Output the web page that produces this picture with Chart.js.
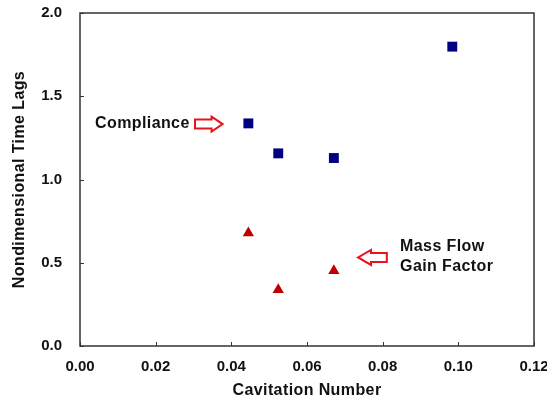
<!DOCTYPE html>
<html><head><meta charset="utf-8">
<script src="https://cdn.jsdelivr.net/npm/chart.js@4"></script>
<style>html,body{margin:0;padding:0;background:#fff}#wrap{width:547px;height:401px}</style>
</head><body><div id="wrap"><canvas id="c" width="547" height="401"></canvas></div>
<script>
const complianceX = [0.0445, 0.0524, 0.0671, 0.0984];
const complianceY = [1.337, 1.157, 1.129, 1.798];
const massFlowX = [0.0445, 0.0524, 0.0671];
const massFlowY = [0.679, 0.338, 0.452];
const xTicks = [0, 0.02, 0.04, 0.06, 0.08, 0.10, 0.12];
const yTicks = [0, 0.5, 1.0, 1.5, 2.0];
const xTitle = 'Cavitation Number';
const yTitle = 'Nondimensional Time Lags';
const labelCompliance = 'Compliance';
const labelMassFlow = ['Mass Flow', 'Gain Factor'];

const FONT = 'Arial, "Liberation Sans", sans-serif';
const SPACING = '0.4px';

function hollowArrow(ctx, x0, x1, y, dir, headFrac) {
  const len = Math.abs(x1 - x0);
  const headLen = len * headFrac;
  const shaftH = 4.5, headH = 7.5;
  const tip = dir > 0 ? Math.max(x0, x1) : Math.min(x0, x1);
  const tail = dir > 0 ? Math.min(x0, x1) : Math.max(x0, x1);
  const neck = tip - dir * headLen;
  ctx.beginPath();
  ctx.moveTo(tail, y - shaftH);
  ctx.lineTo(neck, y - shaftH);
  ctx.lineTo(neck, y - headH);
  ctx.lineTo(tip, y);
  ctx.lineTo(neck, y + headH);
  ctx.lineTo(neck, y + shaftH);
  ctx.lineTo(tail, y + shaftH);
  ctx.closePath();
  ctx.strokeStyle = '#e8141c';
  ctx.lineWidth = 2;
  ctx.lineJoin = 'miter';
  ctx.stroke();
}

function spacedTitle(s) {
  if (s._spaced) return;
  const orig = s.drawTitle.bind(s);
  s.drawTitle = function () {
    this.ctx.save();
    this.ctx.letterSpacing = SPACING;
    orig();
    this.ctx.restore();
  };
  s._spaced = true;
}

const decor = {
  id: 'decor',
  afterDraw(chart) {
    const ctx = chart.ctx, a = chart.chartArea;
    const xs = chart.scales.x, ys = chart.scales.y;
    ctx.save();
    ctx.strokeStyle = '#333';
    ctx.lineWidth = 1.5;
    ctx.strokeRect(a.left, a.top, a.right - a.left, a.bottom - a.top);
    ctx.lineWidth = 1;
    xTicks.forEach(v => {
      const p = Math.round(xs.getPixelForValue(v)) + 0.5;
      ctx.beginPath(); ctx.moveTo(p, a.bottom); ctx.lineTo(p, a.bottom - 4); ctx.stroke();
    });
    yTicks.forEach(v => {
      const p = Math.round(ys.getPixelForValue(v)) + 0.5;
      ctx.beginPath(); ctx.moveTo(a.left, p); ctx.lineTo(a.left + 4, p); ctx.stroke();
    });
    ctx.fillStyle = '#111';
    ctx.font = 'bold 16px ' + FONT;
    ctx.letterSpacing = SPACING;
    ctx.textBaseline = 'middle';
    ctx.textAlign = 'left';
    ctx.fillText(labelCompliance, xs.getPixelForValue(0.00397), ys.getPixelForValue(1.335));
    ctx.fillText(labelMassFlow[0], xs.getPixelForValue(0.0846), ys.getPixelForValue(0.600));
    ctx.fillText(labelMassFlow[1], xs.getPixelForValue(0.0846), ys.getPixelForValue(0.474));
    ctx.letterSpacing = '0px';
    hollowArrow(ctx, xs.getPixelForValue(0.0304), xs.getPixelForValue(0.0377), ys.getPixelForValue(1.333), 1, 0.4);
    hollowArrow(ctx, xs.getPixelForValue(0.0735), xs.getPixelForValue(0.0811), ys.getPixelForValue(0.532), -1, 0.45);
    ctx.restore();
  }
};

new Chart(document.getElementById('c'), {
  type: 'scatter',
  data: {
    datasets: [
      { label: 'Compliance', data: complianceX.map((x, i) => ({x, y: complianceY[i]})),
        pointStyle: 'rect', pointRadius: 7, backgroundColor: '#000080', borderColor: '#000080', borderWidth: 0 },
      { label: 'Mass Flow Gain Factor', data: massFlowX.map((x, i) => ({x, y: massFlowY[i]})),
        pointStyle: 'triangle', pointRadius: 6.5, backgroundColor: '#c00000', borderColor: '#c00000', borderWidth: 0 }
    ]
  },
  plugins: [decor],
  options: {
    responsive: false, animation: false,
    layout: { padding: { top: 13, right: 13, left: 0, bottom: 0 } },
    plugins: { legend: { display: false }, tooltip: { enabled: false } },
    scales: {
      x: {
        type: 'linear', min: 0, max: 0.12,
        afterBuildTicks: s => { s.ticks = xTicks.map(v => ({value: v})); },
        afterFit: s => { s.height = 55; s.paddingLeft = 0; s.paddingRight = 0; spacedTitle(s); },
        grid: { display: false, drawTicks: false },
        border: { display: false },
        ticks: { color: '#111', font: { family: FONT, size: 15, weight: 'bold' }, padding: 12, maxRotation: 0,
          callback: v => v.toFixed(2) },
        title: { display: true, text: xTitle, color: '#111', font: { family: FONT, size: 16, weight: 'bold' }, padding: { top: 4, bottom: 1 } }
      },
      y: {
        type: 'linear', min: 0, max: 2.0,
        afterBuildTicks: s => { s.ticks = yTicks.map(v => ({value: v})); },
        afterFit: s => { s.width = 80; s.paddingTop = 0; s.paddingBottom = 0; spacedTitle(s); },
        grid: { display: false, drawTicks: false },
        border: { display: false },
        ticks: { color: '#111', font: { family: FONT, size: 15, weight: 'bold' }, padding: 18,
          callback: v => v.toFixed(1) },
        title: { display: true, text: yTitle, color: '#111', font: { family: FONT, size: 16, weight: 'bold' }, padding: { top: 10, bottom: 4 } }
      }
    }
  }
});
</script>
</body></html>
